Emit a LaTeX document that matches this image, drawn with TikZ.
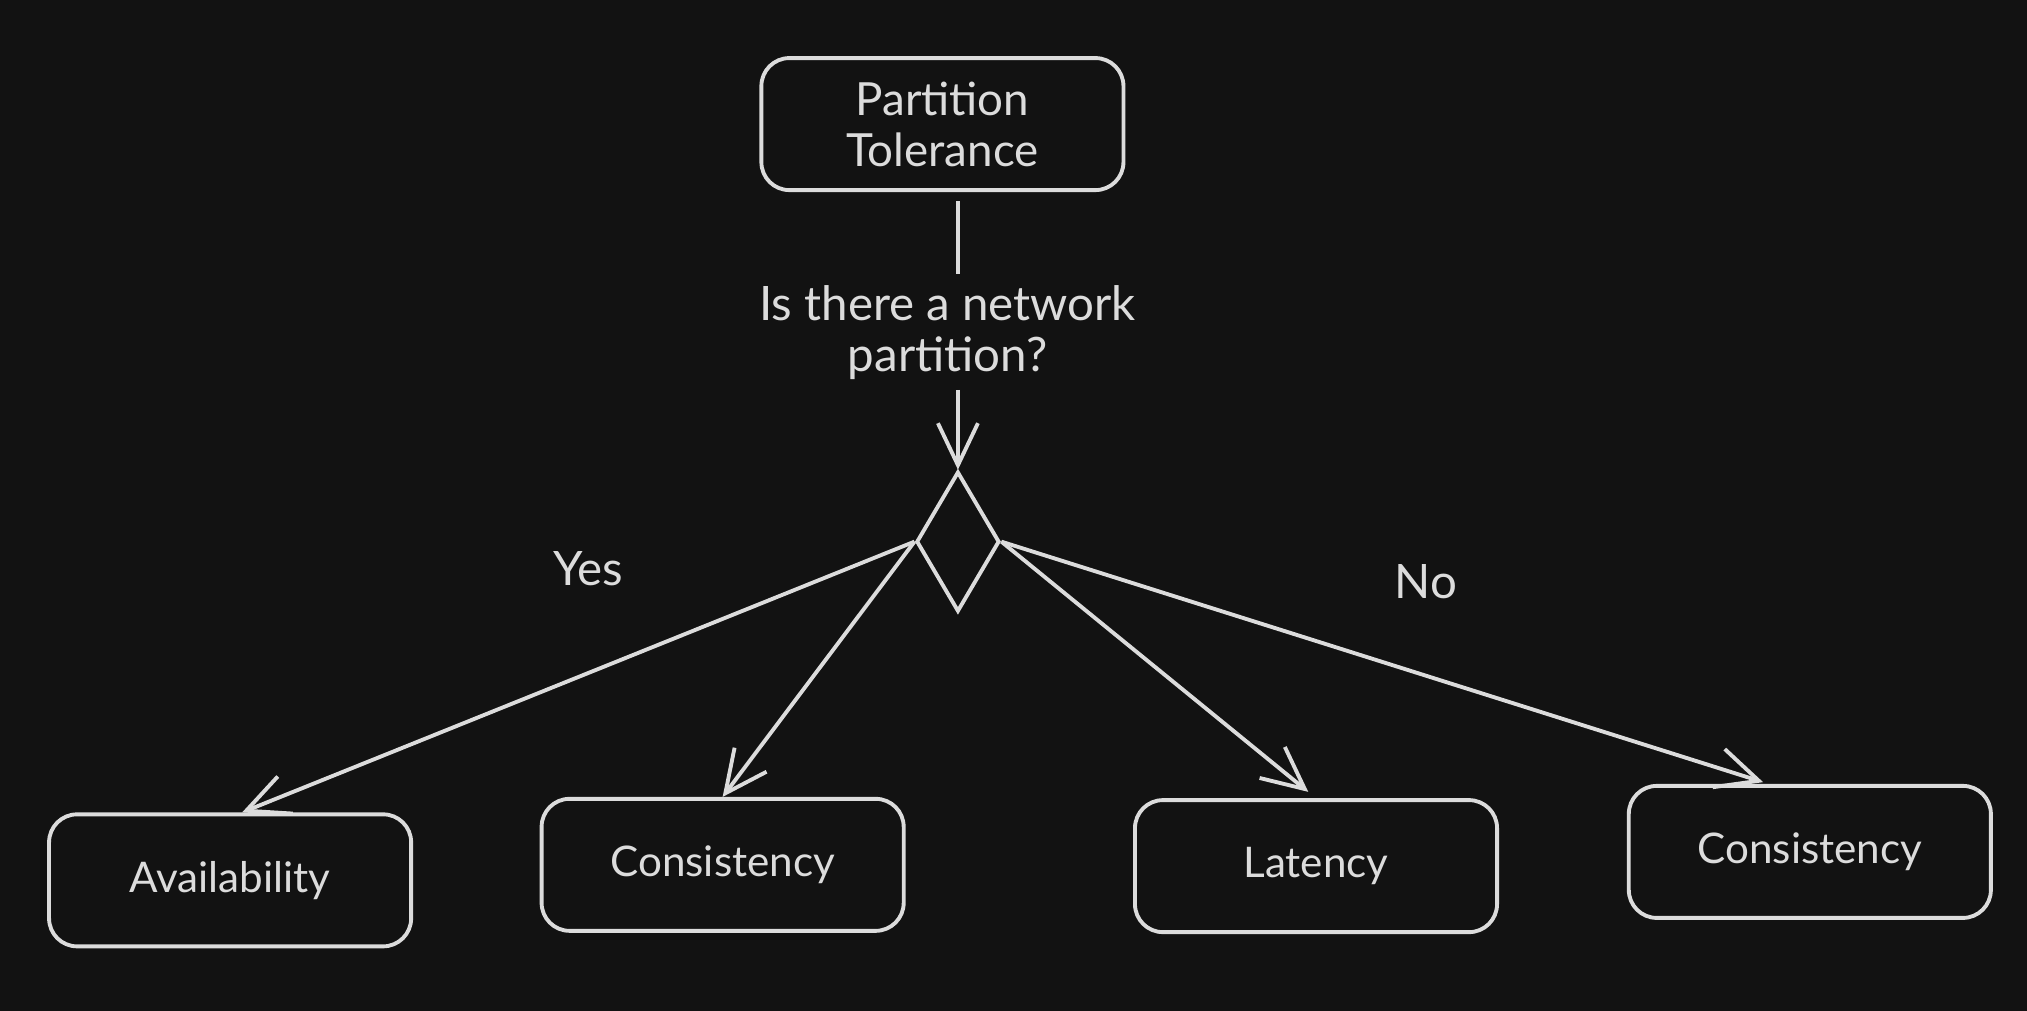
\documentclass[tikz,border=0pt]{standalone}
\usepackage{fontspec}
\setmainfont{Lato}
\usetikzlibrary{shapes.geometric,arrows.meta}
\definecolor{bgdark}{HTML}{121212}
\definecolor{chalk}{HTML}{DCDCDC}
\begin{document}
\begin{tikzpicture}[x=0.012927cm, y=-0.012927cm,
    box/.style={draw=chalk, line width=1.1pt, rounded corners=0.28cm,
        minimum width=3.62cm, minimum height=1.32cm, text=chalk,
        font=\fontsize{12}{14.5}\selectfont, align=center},
    txt/.style={text=chalk, font=\fontsize{13.5}{14.5}\selectfont, align=center},
    plain/.style={draw=chalk, line width=1.1pt},
    edge/.style={plain, -{Straight Barb[length=0.42cm,width=0.4cm]}}]
    % Background
    \fill[bgdark] (0,0) rectangle (1568,782);

    % Question at the top
    \node[box, font=\fontsize{13}{14.5}\selectfont] (pt) at (729,96) {Partition\\Tolerance};
    \node[txt, inner sep=0.1cm] (q) at (733,257) {Is there a network\\partition?};
    \node[diamond, draw=chalk, line width=1.1pt, minimum width=0.83cm,
        minimum height=1.4cm, inner sep=0pt] (dia) at (741,419) {};

    % Answers
    \node[box] (avail) at (178,681) {Availability};
    \node[box] (cons1) at (559,669) {Consistency};
    \node[box] (lat) at (1018,670) {Latency};
    \node[box] (cons2) at (1400,659) {Consistency};

    % Branch labels
    \node[txt] (yes) at (455,440) {Yes};
    \node[txt] (no) at (1103,450) {No};

    % Connectors
    \draw[plain, shorten <=0.09cm] (pt.south -| dia.north) -- (q.north -| dia.north);
    \draw[edge] (q.south -| dia.north) -- (dia.north);
    \draw[edge] (dia.west) -- ([xshift=0.12cm]avail.north);
    \draw[edge] (dia.west) -- (cons1.north);
    \draw[edge, shorten >=0.1cm] (dia.east) -- (lat.north);
    \draw[edge, shorten >=0.06cm] (dia.east) -- ([xshift=-0.41cm]cons2.north);
\end{tikzpicture}
\end{document}
